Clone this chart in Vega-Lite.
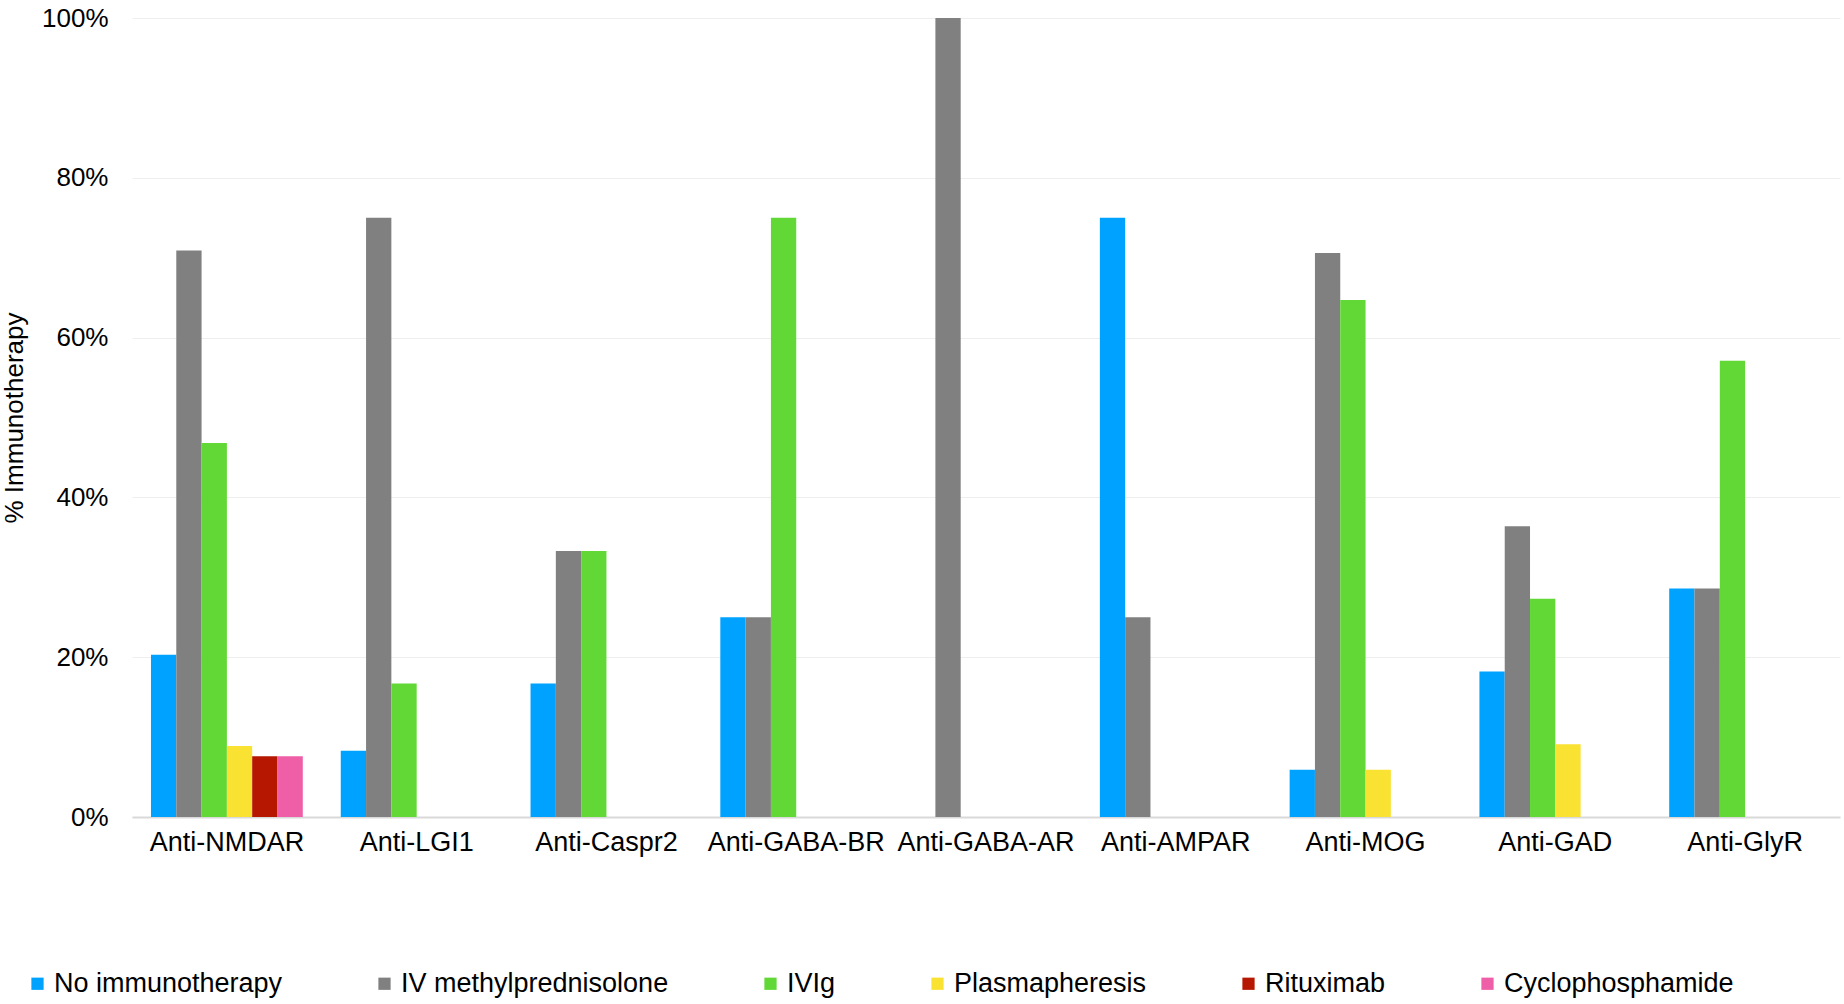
{
  "$schema": "https://vega.github.io/schema/vega-lite/v6.json",
  "autosize": {"type": "none"},
  "padding": {"left": 132, "top": 18, "right": 4, "bottom": 187},
  "width": 1708,
  "height": 799,
  "background": "white",
  "config": {
    "font": "Liberation Sans",
    "view": {"stroke": null}
  },
  "data": {
    "values": [
      {"antibody": "Anti-NMDAR", "treatment": "No immunotherapy", "pct": 20.3},
      {"antibody": "Anti-NMDAR", "treatment": "IV methylprednisolone", "pct": 70.9},
      {"antibody": "Anti-NMDAR", "treatment": "IVIg", "pct": 46.8},
      {"antibody": "Anti-NMDAR", "treatment": "Plasmapheresis", "pct": 8.9},
      {"antibody": "Anti-NMDAR", "treatment": "Rituximab", "pct": 7.6},
      {"antibody": "Anti-NMDAR", "treatment": "Cyclophosphamide", "pct": 7.6},
      {"antibody": "Anti-LGI1", "treatment": "No immunotherapy", "pct": 8.3},
      {"antibody": "Anti-LGI1", "treatment": "IV methylprednisolone", "pct": 75},
      {"antibody": "Anti-LGI1", "treatment": "IVIg", "pct": 16.7},
      {"antibody": "Anti-Caspr2", "treatment": "No immunotherapy", "pct": 16.7},
      {"antibody": "Anti-Caspr2", "treatment": "IV methylprednisolone", "pct": 33.3},
      {"antibody": "Anti-Caspr2", "treatment": "IVIg", "pct": 33.3},
      {"antibody": "Anti-GABA-BR", "treatment": "No immunotherapy", "pct": 25},
      {"antibody": "Anti-GABA-BR", "treatment": "IV methylprednisolone", "pct": 25},
      {"antibody": "Anti-GABA-BR", "treatment": "IVIg", "pct": 75},
      {"antibody": "Anti-GABA-AR", "treatment": "IV methylprednisolone", "pct": 100},
      {"antibody": "Anti-AMPAR", "treatment": "No immunotherapy", "pct": 75},
      {"antibody": "Anti-AMPAR", "treatment": "IV methylprednisolone", "pct": 25},
      {"antibody": "Anti-MOG", "treatment": "No immunotherapy", "pct": 5.9},
      {"antibody": "Anti-MOG", "treatment": "IV methylprednisolone", "pct": 70.6},
      {"antibody": "Anti-MOG", "treatment": "IVIg", "pct": 64.7},
      {"antibody": "Anti-MOG", "treatment": "Plasmapheresis", "pct": 5.9},
      {"antibody": "Anti-GAD", "treatment": "No immunotherapy", "pct": 18.2},
      {"antibody": "Anti-GAD", "treatment": "IV methylprednisolone", "pct": 36.4},
      {"antibody": "Anti-GAD", "treatment": "IVIg", "pct": 27.3},
      {"antibody": "Anti-GAD", "treatment": "Plasmapheresis", "pct": 9.1},
      {"antibody": "Anti-GlyR", "treatment": "No immunotherapy", "pct": 28.6},
      {"antibody": "Anti-GlyR", "treatment": "IV methylprednisolone", "pct": 28.6},
      {"antibody": "Anti-GlyR", "treatment": "IVIg", "pct": 57.1}
    ]
  },
  "mark": {"type": "bar"},
  "encoding": {
    "x": {
      "field": "antibody",
      "type": "nominal",
      "sort": ["Anti-NMDAR", "Anti-LGI1", "Anti-Caspr2", "Anti-GABA-BR", "Anti-GABA-AR", "Anti-AMPAR", "Anti-MOG", "Anti-GAD", "Anti-GlyR"],
      "scale": {"paddingInner": 0.2, "paddingOuter": 0.1},
      "axis": {
        "title": null,
        "labelAngle": 0,
        "labelFontSize": 27,
        "labelColor": "#000000",
        "labelPadding": 12,
        "ticks": false,
        "domainColor": "#d9d9d9",
        "domainWidth": 2,
        "grid": false
      }
    },
    "xOffset": {
      "field": "treatment",
      "type": "nominal",
      "scale": {
        "domain": ["No immunotherapy", "IV methylprednisolone", "IVIg", "Plasmapheresis", "Rituximab", "Cyclophosphamide"],
        "paddingInner": 0,
        "paddingOuter": 0
      }
    },
    "y": {
      "field": "pct",
      "type": "quantitative",
      "scale": {"domain": [0, 100]},
      "axis": {
        "title": "% Immunotherapy",
        "titleFontSize": 26,
        "titleFontWeight": "normal",
        "titleColor": "#000000",
        "titlePadding": 14,
        "values": [0, 20, 40, 60, 80, 100],
        "labelExpr": "datum.value + '%'",
        "labelFontSize": 26,
        "labelColor": "#000000",
        "labelPadding": 24,
        "ticks": false,
        "domain": false,
        "grid": true,
        "gridColor": "#eeeeee",
        "gridWidth": 1
      }
    },
    "color": {
      "field": "treatment",
      "type": "nominal",
      "scale": {
        "domain": ["No immunotherapy", "IV methylprednisolone", "IVIg", "Plasmapheresis", "Rituximab", "Cyclophosphamide"],
        "range": ["#00A2FF", "#808080", "#61D836", "#FAE232", "#B51700", "#EF5FA7"]
      },
      "legend": {
        "title": null,
        "orient": "none",
        "direction": "horizontal",
        "legendX": -108,
        "legendY": 952,
        "symbolType": "square",
        "symbolSize": 150,
        "symbolStrokeWidth": 0,
        "labelFontSize": 27,
        "labelColor": "#000000",
        "labelOffset": 3,
        "labelLimit": 400,
        "columnPadding": 88
      }
    }
  }
}
